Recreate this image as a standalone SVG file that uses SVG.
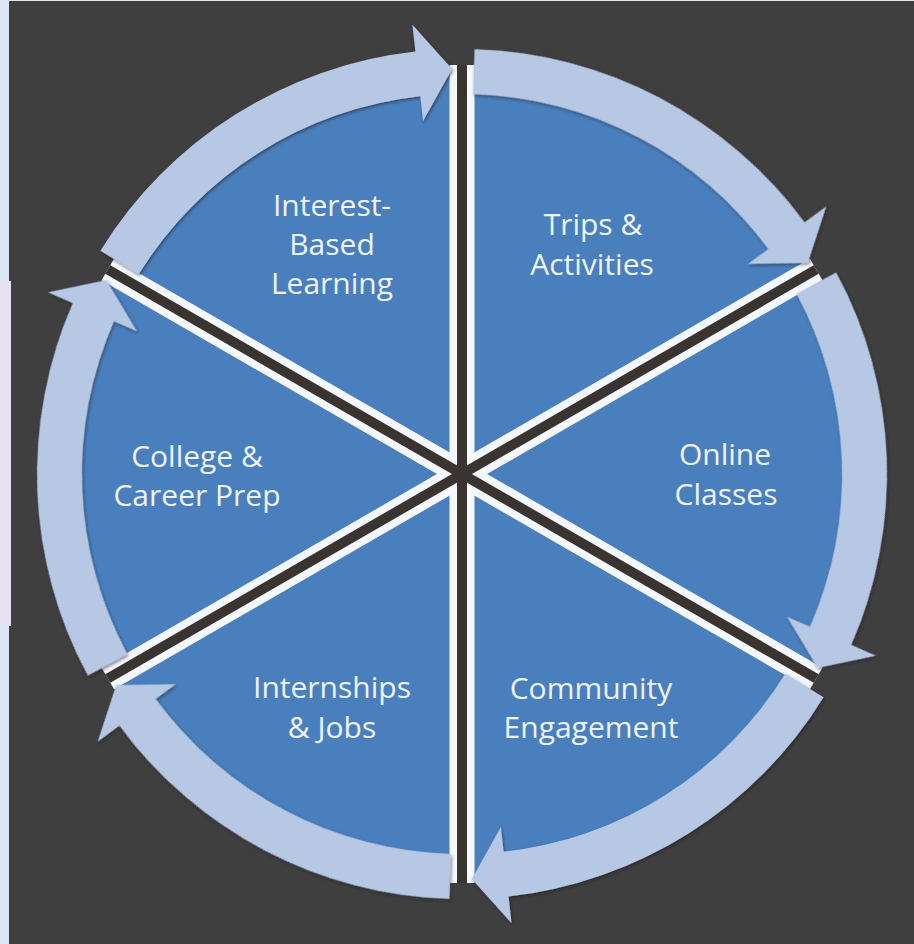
<svg xmlns="http://www.w3.org/2000/svg" xmlns:xlink="http://www.w3.org/1999/xlink" width="914" height="944" viewBox="0 0 914 944">
  <style>
    .sector { fill: #4a7fbe; }
    .label { font-family: "Open Sans", "Liberation Sans", sans-serif; font-size: 30px; fill: #eef3fa; text-anchor: middle; }
    .arrow { fill: #b7c8e5; }
    .div-w { stroke: #f4f8fc; stroke-width: 25; stroke-linecap: butt; fill: none; }
    .div-d { stroke: #3a3430; stroke-width: 10; stroke-linecap: butt; fill: none; }
  </style>
  <defs>
    <filter id="shadow" x="-10%" y="-10%" width="120%" height="120%">
      <feDropShadow dx="1" dy="1.5" stdDeviation="1.5" flood-color="#1a1a1a" flood-opacity="0.6"/>
    </filter>
    <path id="arc-arrow" d="M100.4,250.7 A425,425 0 0 1 415.4,51.6 L412.4,24.7 L452.1,69.1 L423.1,121.1 L420.3,96.3 A380,380 0 0 0 138.7,274.3 Z"/>
  </defs>

  <!-- background -->
  <rect x="0" y="0" width="914" height="944" fill="#3f3f3f"/>
  <rect x="0" y="0" width="9" height="944" fill="#dce6f2"/>
  <rect x="0" y="0" width="914" height="1" fill="#dce6f2"/>
  <rect x="0" y="281" width="11" height="345" fill="#e5e1ee"/>

  <!-- nodes -->
  <g id="node-interest">
    <path class="sector" d="M462,474 L108.7,270 A408,408 0 0 1 462,66 Z"/>
    <text class="label" x="332" y="216">Interest-</text>
    <text class="label" x="332" y="255">Based</text>
    <text class="label" x="332" y="294">Learning</text>
  </g>
  <g id="node-trips">
    <path class="sector" d="M462,474 L462,66 A408,408 0 0 1 815.3,270 Z"/>
    <text class="label" x="593" y="235">Trips &amp;</text>
    <text class="label" x="592" y="275">Activities</text>
  </g>
  <g id="node-online">
    <path class="sector" d="M462,474 L815.3,270 A408,408 0 0 1 815.3,678 Z"/>
    <text class="label" x="725" y="465">Online</text>
    <text class="label" x="726" y="505">Classes</text>
  </g>
  <g id="node-community">
    <path class="sector" d="M462,474 L815.3,678 A408,408 0 0 1 462,882 Z"/>
    <text class="label" x="591" y="699">Community</text>
    <text class="label" x="591" y="738">Engagement</text>
  </g>
  <g id="node-internships">
    <path class="sector" d="M462,474 L462,882 A408,408 0 0 1 108.7,678 Z"/>
    <text class="label" x="332" y="698">Internships</text>
    <text class="label" x="332" y="738">&amp; Jobs</text>
  </g>
  <g id="node-college">
    <path class="sector" d="M462,474 L108.7,678 A408,408 0 0 1 108.7,270 Z"/>
    <text class="label" x="197" y="467">College &amp;</text>
    <text class="label" x="197" y="506">Career Prep</text>
  </g>

  <!-- dividers -->
  <g id="dividers">
    <line class="div-w" x1="462" y1="65" x2="462" y2="883"/>
    <line class="div-w" x1="816.2" y1="269.5" x2="107.8" y2="678.5"/>
    <line class="div-w" x1="107.8" y1="269.5" x2="816.2" y2="678.5"/>
    <line class="div-d" x1="462" y1="65" x2="462" y2="883"/>
    <line class="div-d" x1="816.2" y1="269.5" x2="107.8" y2="678.5"/>
    <line class="div-d" x1="107.8" y1="269.5" x2="816.2" y2="678.5"/>
  </g>

  <!-- connectors: circular arrows -->
  <g id="connectors" filter="url(#shadow)">
    <use xlink:href="#arc-arrow" href="#arc-arrow" class="arrow"/>
    <use xlink:href="#arc-arrow" href="#arc-arrow" class="arrow" transform="rotate(60 462 474)"/>
    <use xlink:href="#arc-arrow" href="#arc-arrow" class="arrow" transform="rotate(120 462 474)"/>
    <use xlink:href="#arc-arrow" href="#arc-arrow" class="arrow" transform="rotate(180 462 474)"/>
    <use xlink:href="#arc-arrow" href="#arc-arrow" class="arrow" transform="rotate(240 462 474)"/>
    <use xlink:href="#arc-arrow" href="#arc-arrow" class="arrow" transform="rotate(300 462 474)"/>
  </g>
</svg>
